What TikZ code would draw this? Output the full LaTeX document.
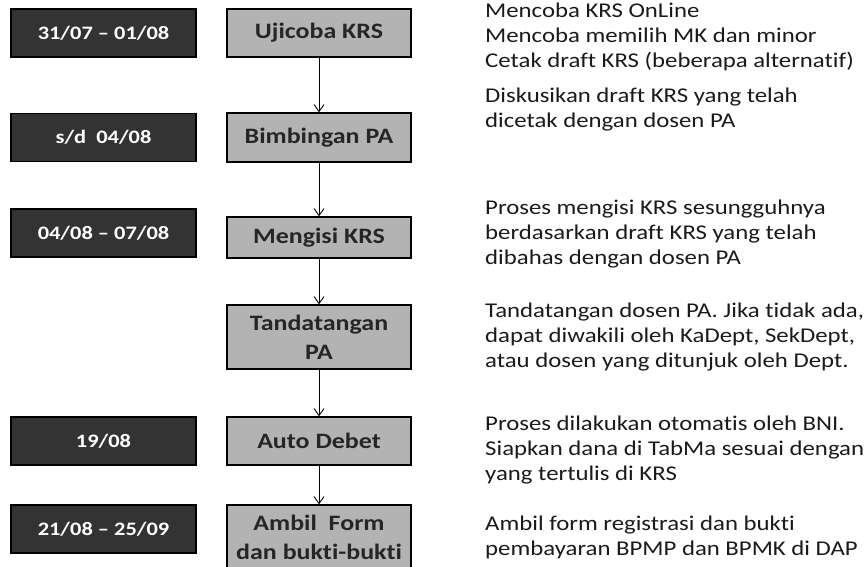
\documentclass[tikz,border=0pt]{standalone}
\usepackage{fontspec}
\setmainfont{Carlito}[FakeStretch=1.18, Ligatures=NoCommon]
\usepackage{tikz}
\usetikzlibrary{arrows.meta, positioning}
\definecolor{datefill}{HTML}{333333}
\definecolor{stepfill}{HTML}{B3B3B3}
\definecolor{steptext}{HTML}{262626}
\definecolor{notetext}{HTML}{1A1A1A}

\begin{document}
\begin{tikzpicture}[x=1pt, y=-1pt,
                    datebox/.style={draw=black, line width=1.4pt, fill=datefill,
                        text=white, font=\fontsize{19}{24}\selectfont\bfseries,
                        minimum width=185pt, minimum height=48pt, inner sep=0pt},
                    stepbox/.style={draw=black, line width=1.4pt, fill=stepfill,
                        text=steptext, font=\fontsize{22}{29}\selectfont\bfseries,
                        minimum width=184pt, minimum height=#1, inner sep=0pt, align=center},
                    stepbox/.default=48pt,
                    note/.style={anchor=west, align=left, inner sep=0pt, text=notetext,
                        font=\fontsize{21}{25}\selectfont},
                    flow/.style={-{Straight Barb[length=7pt, width=10pt]}, line width=0.9pt}]
                    \useasboundingbox (0,0) rectangle (865,567);
                    % tanggal
                    \node (d1) [datebox] at (103.5,33)    {31/07 – 01/08};
                    \node (d2) [datebox] at (103.5,137.5) {s/d\ \ 04/08};
                    \node (d3) [datebox] at (103.5,233)   {04/08 – 07/08};
                    \node (d4) [datebox] at (103.5,441)   {19/08};
                    \node (d5) [datebox] at (103.5,529)   {21/08 – 25/09};
                    % tahapan
                    \node (ujicoba)   [stepbox]      at (319,33)    {Ujicoba KRS};
                    \node (bimbingan) [stepbox=49pt] at (319,137.5) {Bimbingan PA};
                    \node (mengisi)   [stepbox=41pt] at (319,237.5) {Mengisi KRS};
                    \node (ttd)       [stepbox=64pt] at (319,337)   {Tandatangan\\PA};
                    \node (debet)     [stepbox]      at (319,441)   {Auto Debet};
                    \node (ambil)     [stepbox=64pt] at (319,537)   {Ambil\ \ Form\\dan bukti-bukti};
                    \draw[flow] (ujicoba) -- (bimbingan);
                    \draw[flow] (bimbingan) -- (mengisi);
                    \draw[flow] (mengisi) -- (ttd);
                    \draw[flow] (ttd) -- (debet);
                    \draw[flow] (debet) -- (ambil);
                    % keterangan
                    \node (n1) [note] at (485,37)  {Mencoba KRS OnLine\\Mencoba memilih MK dan minor\\Cetak draft KRS (beberapa alternatif)};
                    \node (n2) [note] at (485,110) {Diskusikan draft KRS yang telah\\dicetak dengan dosen PA};
                    \node (n3) [note] at (485,234) {Proses mengisi KRS sesungguhnya\\berdasarkan draft KRS yang telah\\dibahas dengan dosen PA};
                    \node (n4) [note] at (485,337) {Tandatangan dosen PA. Jika tidak ada,\\dapat diwakili oleh KaDept, SekDept,\\atau dosen yang ditunjuk oleh Dept.};
                    \node (n5) [note] at (485,450) {Proses dilakukan otomatis oleh BNI.\\Siapkan dana di TabMa sesuai dengan\\yang tertulis di KRS};
                    \node (n6) [note] at (485,537) {Ambil form registrasi dan bukti\\pembayaran BPMP dan BPMK di DAP};
                \end{tikzpicture}
\end{document}
